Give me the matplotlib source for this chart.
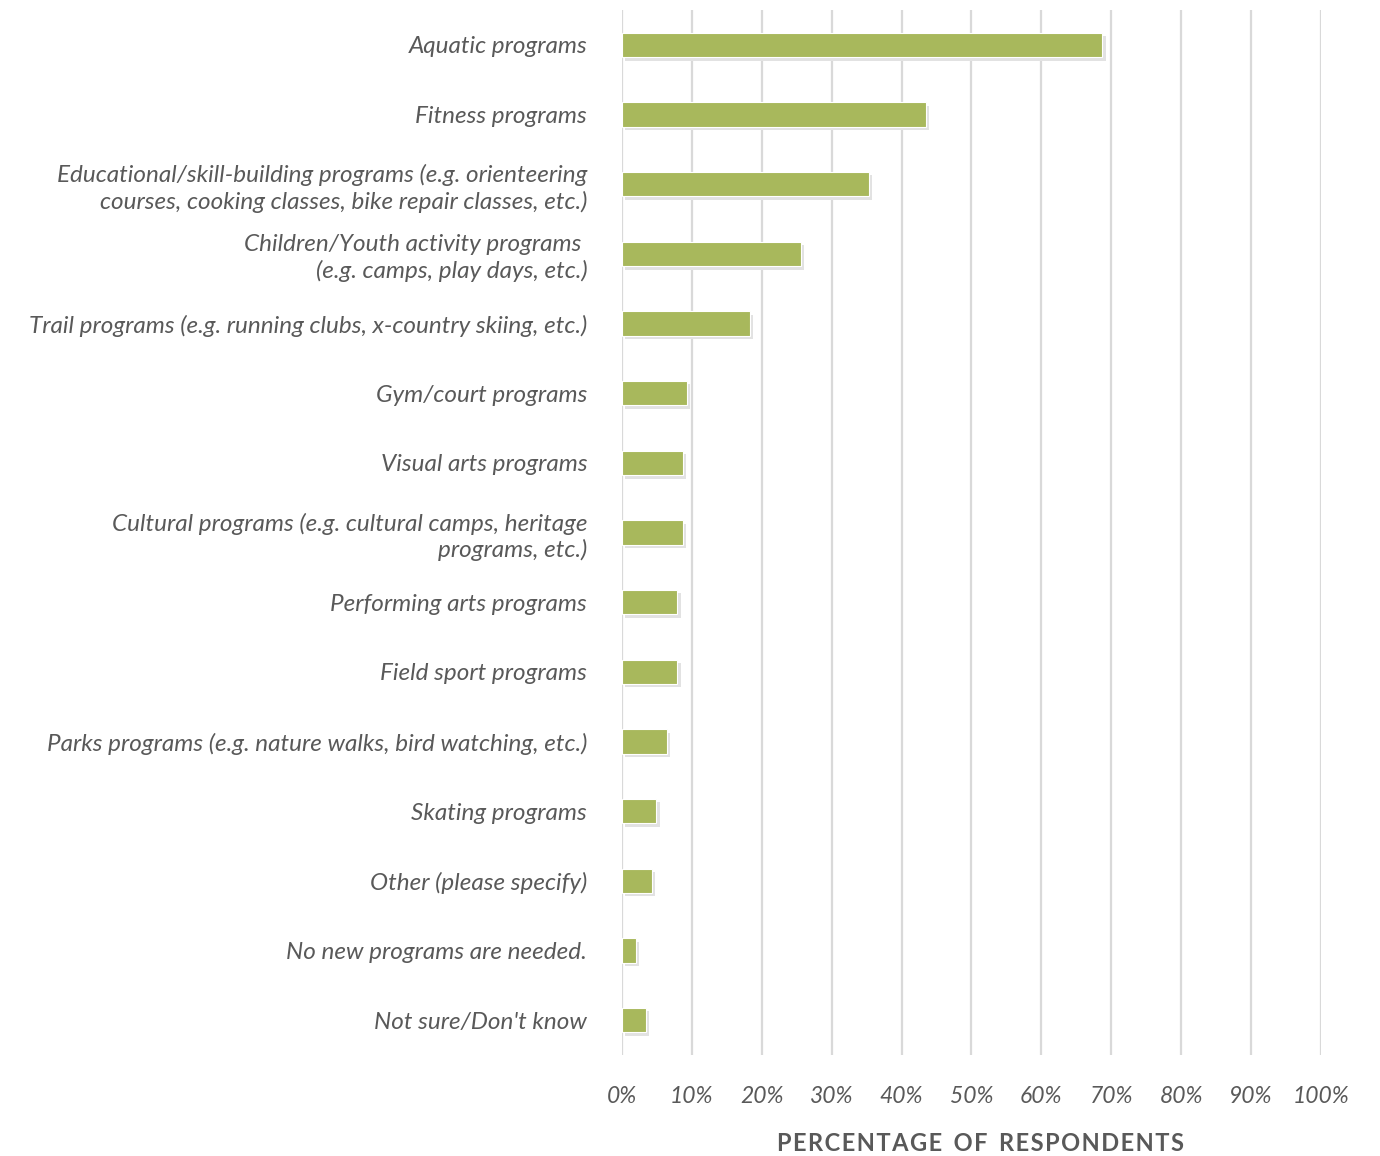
import matplotlib
matplotlib.use("Agg")
import matplotlib.pyplot as plt
import matplotlib.patheffects as pe
import numpy as np

categories = [
    "Aquatic programs",
    "Fitness programs",
    "Educational/skill-building programs (e.g. orienteering\ncourses, cooking classes, bike repair classes, etc.)",
    "Children/Youth activity programs \n(e.g. camps, play days, etc.)",
    "Trail programs (e.g. running clubs, x-country skiing, etc.)",
    "Gym/court programs",
    "Visual arts programs",
    "Cultural programs (e.g. cultural camps, heritage\nprograms, etc.)",
    "Performing arts programs",
    "Field sport programs",
    "Parks programs (e.g. nature walks, bird watching, etc.)",
    "Skating programs",
    "Other (please specify)",
    "No new programs are needed.",
    "Not sure/Don't know",
]
values = [68.7, 43.5, 35.3, 25.6, 18.3, 9.3, 8.7, 8.7, 7.9, 7.9, 6.4, 4.9, 4.3, 2.0, 3.4]
xticks = list(range(0, 101, 10))
xtick_labels = [f"{t}%" for t in xticks]

text_color = "#595959"
bar_color = "#a8b85c"
grid_color = "#d9d9d9"

plt.rcParams['font.family'] = ['Lato', 'DejaVu Sans']

fig = plt.figure(figsize=(13.8, 11.56), dpi=100)
ax = fig.add_axes([0.4507, 0.0874, 0.5065, 0.9039])

y = np.arange(len(categories))
bars = ax.barh(y, values, height=0.35, color=bar_color, edgecolor="white",
               linewidth=0.8, zorder=3)
for b in bars:
    b.set_path_effects([pe.SimplePatchShadow(offset=(2.5, -2.5),
                                             shadow_rgbFace="#e2e2e2", alpha=1.0),
                        pe.Normal()])

ax.set_xlim(0, 100)
ax.set_ylim(len(categories) - 0.5, -0.5)
ax.set_xticks(xticks)
ax.set_xticklabels(xtick_labels, fontsize=16.5, style="italic", color=text_color)
ax.set_yticks(y)
ax.set_yticklabels(categories, fontsize=17.5, style="italic", color=text_color,
                   linespacing=1.25)
ax.tick_params(axis="y", length=0, pad=25)
ax.tick_params(axis="x", length=0, pad=22)
ax.grid(axis="x", color=grid_color, linewidth=1.6, zorder=0)
for spine in ax.spines.values():
    spine.set_visible(False)

xlabel = "\u200a".join("PERCENTAGE OF RESPONDENTS").replace("\u200a \u200a", "  ")
ax.set_xlabel(xlabel, fontsize=17, fontweight="bold", color=text_color)
ax.xaxis.set_label_coords(0.513, -0.074)

fig.savefig("out.png", dpi=100, facecolor="white")
